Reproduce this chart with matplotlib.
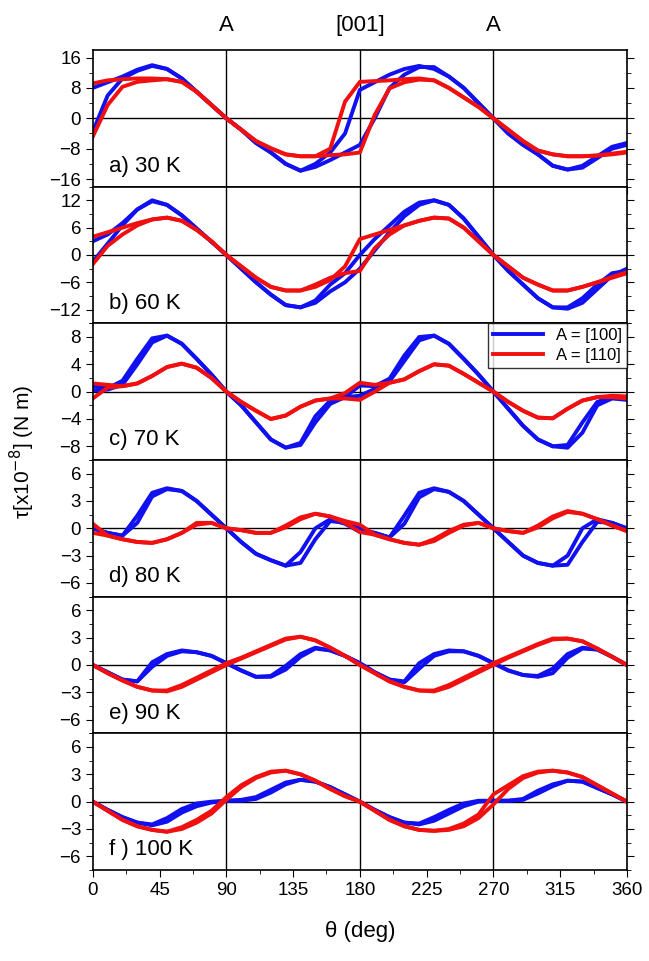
import numpy as np
import matplotlib.pyplot as plt
from matplotlib.ticker import MultipleLocator

plt.rcParams['font.family'] = ['Liberation Sans', 'DejaVu Sans']

theta = np.arange(0, 361, 10)

# panel a) 30 K
a_blue_1 = [-3.5, 6, 10.5, 12.5, 13.8, 13, 10.5, 7, 3.5, 0, -3, -6.5, -9, -12, -13.8, -12, -9, -4, 7.5, 9.5,
            11.5, 13, 13.8, 13, 11, 8, 4, 0, -4, -7, -9.5, -12.5, -13.5, -13, -10.5, -8, -7]
a_blue_2 = [8, 9.5, 11, 12.8, 14, 13, 10.5, 7, 3.5, 0, -3, -6.5, -9, -12, -13.8, -12.8, -11, -9, -7, 0,
            8, 11.5, 13.5, 13.5, 11, 8, 4, 0, -4, -7, -9.5, -12.5, -13.5, -12.5, -10, -7.5, -6.5]
a_red_1 = [-4.8, 3.5, 8.3, 9.6, 10, 10.3, 9.6, 7, 3.5, 0, -3, -6, -7.9, -9.5, -10, -10, -8, 4.4, 9.6, 9.8,
           10, 10.3, 10.5, 10, 8, 5.5, 3, 0, -3, -6, -8.5, -9.5, -10, -10, -9.8, -9.5, -9]
a_red_2 = [9.2, 10, 10.3, 10.5, 10.5, 10.3, 9.6, 7, 3.5, 0, -3, -6, -7.9, -9.5, -10, -10, -9.7, -9.5, -9, 0.9,
           7.9, 9.5, 10.2, 10, 8, 5.5, 3, 0, -3, -6, -8.5, -9.5, -10, -10, -9.8, -9.3, -8.8]

# panel b) 60 K
b_blue_1 = [-1.5, 2.5, 6.5, 10, 11.8, 11, 8.7, 5.8, 2.9, 0, -3, -6, -8.7, -11, -11.5, -10, -6.5, -4, 0, 3.5,
            6.5, 9.5, 11.5, 12, 11, 8, 4, 0, -3.5, -6.5, -9.5, -11.5, -11.5, -9.5, -6.5, -4, -3.5]
b_blue_2 = [3, 4.5, 7, 10, 12, 11, 8.7, 5.8, 2.9, 0, -3, -6, -8.7, -11, -11.5, -10.5, -8, -6, -3, 1,
            5, 8.5, 11, 12, 11, 8, 4, 0, -3.5, -6.5, -9.5, -11.5, -11.8, -10.5, -7.5, -4.5, -3]
b_red_1 = [-2, 2, 4.5, 6.5, 7.8, 8.2, 7.5, 5.5, 3, 0, -2.5, -5, -7, -7.8, -7.8, -7, -5.5, -2.5, 3.5, 4.5,
           5.5, 6.5, 7.5, 8.2, 8, 6, 3, 0, -2.5, -5, -6.5, -7.8, -7.8, -7, -6, -5, -4]
b_red_2 = [4, 5, 6, 7, 7.8, 8.2, 7.5, 5.5, 3, 0, -2.5, -5, -7, -7.8, -7.8, -6.5, -5, -4, -3.5, 1.5,
           4.5, 6.5, 7.5, 8.2, 8, 6, 3, 0, -2.5, -5, -6.5, -7.8, -7.8, -7, -6, -4.8, -3.8]

# panel c) 70 K
c_blue_1 = [0.8, 0.5, 1.6, 4.8, 7.8, 8.2, 7, 4.8, 2.5, 0, -2, -4.5, -7, -8.2, -7.5, -3.6, -1.3, -0.8, 0.9, 0.8,
            1.9, 5.3, 8, 8.2, 7, 4.8, 2.5, 0, -2.5, -5, -7, -8, -7.8, -4.5, -1.5, -0.8, -1]
c_blue_2 = [0.2, 0.3, 1.0, 4, 7.2, 8.2, 7, 4.8, 2.5, 0, -2, -4.5, -7, -8.2, -7.8, -4.5, -1.8, -0.8, -0.6, 0.4,
            1.5, 4.5, 7.5, 8.2, 7, 4.8, 2.5, 0, -2.5, -5, -7, -8, -8.2, -6, -2, -1, -1.2]
c_red_1 = [-1, 0.6, 0.8, 1.2, 2.3, 3.6, 4.1, 3.5, 2, 0, -1.5, -2.8, -4, -3.5, -2.2, -1.3, -1, -0.2, 1.3, 1,
           1.3, 1.8, 3, 4, 3.8, 2.6, 1.3, 0, -1.5, -2.8, -3.8, -3.9, -2.5, -1.3, -0.8, -0.8, -1]
c_red_2 = [1.2, 1.0, 0.8, 1.2, 2.3, 3.6, 4.1, 3.5, 2, 0, -1.5, -2.8, -4, -3.5, -2.2, -1.3, -1, -1, -1.2, 0,
           1.3, 1.8, 3, 4, 3.8, 2.6, 1.3, 0, -1.5, -2.8, -3.8, -3.9, -2.5, -1.3, -0.8, -0.6, -0.7]

# panel d) 80 K
d_blue_1 = [0, -0.5, -0.8, 1.4, 3.9, 4.4, 4.1, 3, 1.5, 0, -1.5, -2.8, -3.5, -4.1, -2.6, 0, 1, 0.5, -0.4, -0.5,
            -1, 1.4, 3.9, 4.4, 4, 3, 1.5, 0, -1.5, -3, -3.8, -4.1, -3, 0, 1, 0.6, 0]
d_blue_2 = [0, -0.5, -0.8, 0.6, 3.5, 4.3, 4.1, 3, 1.5, 0, -1.5, -2.8, -3.5, -4.1, -3.8, -1.2, 0.8, 0.6, 0, -0.5,
            -1, 0.5, 3.4, 4.3, 4, 3, 1.5, 0, -1.5, -3, -3.8, -4.1, -4, -1.5, 0.7, 0.6, 0]
d_red_1 = [0.5, -0.8, -1.2, -1.5, -1.6, -1.2, -0.5, 0.6, 0.6, 0, -0.2, -0.5, -0.5, 0.3, 1.2, 1.6, 1.3, 0.8, 0.4, -0.7,
           -1.2, -1.6, -1.8, -1.2, -0.3, 0.4, 0.6, 0, -0.3, -0.5, 0.3, 1.3, 1.9, 1.6, 1, 0.3, -0.3]
d_red_2 = [-0.5, -0.8, -1.2, -1.5, -1.6, -1.2, -0.5, 0.4, 0.6, 0, -0.2, -0.5, -0.5, 0.1, 1.0, 1.6, 1.3, 0.6, -0.4, -0.7,
           -1.2, -1.6, -1.8, -1.4, -0.5, 0.3, 0.6, 0, -0.3, -0.5, 0.1, 1.1, 1.8, 1.6, 1, 0.3, -0.3]

# panel e) 90 K
e_blue_1 = [0, -0.8, -1.6, -1.8, 0.3, 1.2, 1.6, 1.4, 1, 0.2, -0.6, -1.3, -1.2, -0.1, 1.2, 1.9, 1.6, 1, 0.2, -0.8,
            -1.6, -1.8, 0.2, 1.2, 1.6, 1.5, 1, 0.2, -0.6, -1.1, -1.2, -0.4, 1.2, 1.9, 1.7, 0.9, 0]
e_blue_2 = [0, -0.8, -1.6, -1.8, -0.2, 1.0, 1.5, 1.4, 1, 0.2, -0.6, -1.3, -1.3, -0.5, 0.9, 1.8, 1.6, 1, 0.2, -0.8,
            -1.6, -1.9, -0.4, 1.0, 1.5, 1.5, 1, 0.2, -0.6, -1.1, -1.3, -0.9, 0.8, 1.8, 1.7, 0.9, 0]
e_red_1 = [0, -0.9, -1.7, -2.4, -2.8, -2.8, -2.2, -1.4, -0.6, 0.2, 0.8, 1.5, 2.2, 2.9, 3.1, 2.7, 1.9, 1, 0, -0.9,
           -1.8, -2.4, -2.8, -2.8, -2.2, -1.4, -0.6, 0.2, 0.9, 1.6, 2.3, 2.9, 2.9, 2.6, 1.8, 0.9, 0]
e_red_2 = [0, -0.9, -1.7, -2.4, -2.8, -2.9, -2.4, -1.6, -0.8, 0.0, 0.7, 1.4, 2.1, 2.8, 3.1, 2.7, 1.9, 1, 0, -0.9,
           -1.8, -2.4, -2.8, -2.9, -2.4, -1.6, -0.8, 0.0, 0.8, 1.5, 2.2, 2.8, 2.9, 2.6, 1.8, 0.9, 0]

# panel f) 100 K
f_blue_1 = [0, -0.9, -1.7, -2.3, -2.5, -1.8, -0.8, -0.2, 0, 0.1, 0.2, 0.5, 1.3, 2.1, 2.4, 2.2, 1.6, 0.8, 0, -0.9,
            -1.7, -2.3, -2.4, -1.7, -0.9, -0.2, 0.1, 0.1, 0.1, 0.3, 1.2, 1.9, 2.3, 2.2, 1.5, 0.8, 0]
f_blue_2 = [0, -0.9, -1.7, -2.3, -2.6, -2.2, -1.2, -0.5, -0.1, 0.1, 0.1, 0.3, 1.0, 1.9, 2.4, 2.2, 1.6, 0.8, 0, -0.9,
            -1.7, -2.3, -2.5, -2.1, -1.3, -0.5, 0, 0.1, 0.1, 0.2, 0.9, 1.7, 2.3, 2.2, 1.5, 0.8, 0]
f_red_1 = [0, -1, -2, -2.7, -3.1, -3.3, -2.8, -2, -1, 0.5, 1.8, 2.7, 3.3, 3.4, 3, 2.3, 1.4, 0.6, 0, -1,
           -2, -2.7, -3.1, -3.2, -3, -2.4, -1.4, 0.8, 1.8, 2.8, 3.3, 3.4, 3.2, 2.7, 1.8, 0.9, 0]
f_red_2 = [0, -1, -2, -2.7, -3.1, -3.3, -3.0, -2.3, -1.3, 0.2, 1.6, 2.6, 3.2, 3.4, 3, 2.3, 1.4, 0.6, 0, -1,
           -2, -2.7, -3.1, -3.2, -3.1, -2.7, -1.8, -0.3, 1.4, 2.6, 3.2, 3.4, 3.2, 2.7, 1.8, 0.9, 0]

panels = [
    ('a) 30 K', a_blue_1, a_blue_2, a_red_1, a_red_2, 18, [-16, -8, 0, 8, 16], 4),
    ('b) 60 K', b_blue_1, b_blue_2, b_red_1, b_red_2, 15, [-12, -6, 0, 6, 12], 3),
    ('c) 70 K', c_blue_1, c_blue_2, c_red_1, c_red_2, 10, [-8, -4, 0, 4, 8], 2),
    ('d) 80 K', d_blue_1, d_blue_2, d_red_1, d_red_2, 7.5, [-6, -3, 0, 3, 6], 1.5),
    ('e) 90 K', e_blue_1, e_blue_2, e_red_1, e_red_2, 7.5, [-6, -3, 0, 3, 6], 1.5),
    ('f ) 100 K', f_blue_1, f_blue_2, f_red_1, f_red_2, 7.5, [-6, -3, 0, 3, 6], 1.5),
]

blue = '#1010f0'
red = '#f01010'

fig, axes = plt.subplots(6, 1, figsize=(6.49, 9.61), sharex=True)
fig.subplots_adjust(left=0.143, right=0.966, top=0.948, bottom=0.0947, hspace=0)

for ax, (label, b1, b2, r1, r2, lim, ticks, minor) in zip(axes, panels):
    ax.axhline(0, color='black', lw=1)
    for xv in (90, 180, 270):
        ax.axvline(xv, color='black', lw=1)
    ax.plot(theta, b1, color=blue, lw=2.8, label='A = [100]')
    ax.plot(theta, b2, color=blue, lw=2.8)
    ax.plot(theta, r1, color=red, lw=2.8, label='A = [110]')
    ax.plot(theta, r2, color=red, lw=2.8)
    ax.set_ylim(-lim, lim)
    ax.set_yticks(ticks)
    ax.yaxis.set_minor_locator(MultipleLocator(minor))
    ax.set_xlim(0, 360)
    ax.xaxis.set_major_locator(MultipleLocator(45))
    ax.xaxis.set_minor_locator(MultipleLocator(22.5))
    ax.tick_params(which='both', direction='out', right=True, labelsize=13.5)
    ax.tick_params(which='major', length=5)
    ax.tick_params(which='minor', length=3)
    ax.text(0.03, 0.07, label, transform=ax.transAxes, fontsize=16, va='bottom')
    for s in ax.spines.values():
        s.set_linewidth(1.2)

axes[2].legend(loc='upper right', fontsize=12, frameon=True, fancybox=False, edgecolor='black',
               borderaxespad=0, handlelength=3, borderpad=0.3, labelspacing=0.3)
axes[-1].set_xlabel('θ (deg)', fontsize=16, labelpad=16)
fig.text(0.035, 0.53, r'τ[x10$^{-8}$] (N m)', rotation=90, fontsize=15, va='center', ha='center')
for xv, t in [(90, 'A'), (180, '[001]'), (270, 'A')]:
    axes[0].text(xv, 1.1, t, transform=axes[0].get_xaxis_transform(), ha='center', va='bottom', fontsize=16)

plt.savefig('out.png', dpi=100)
